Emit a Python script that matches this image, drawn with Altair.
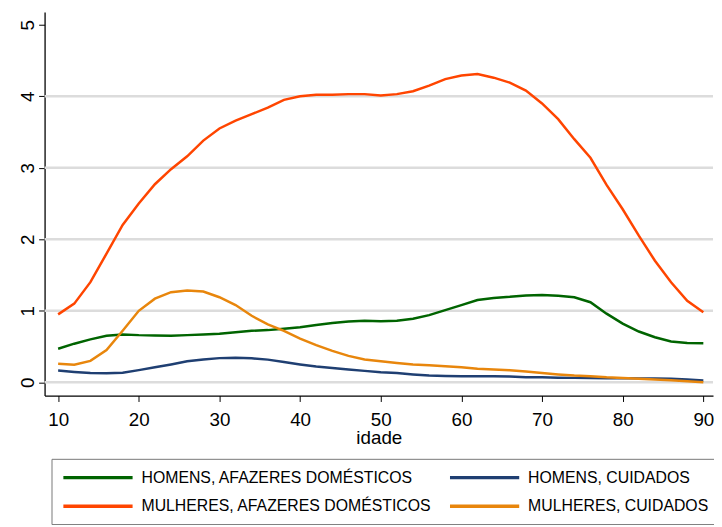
import altair as alt
import pandas as pd

ages = list(range(10, 91, 2))

homens_afazeres = [0.47, 0.54, 0.60, 0.65, 0.67, 0.66, 0.655, 0.65, 0.66, 0.67, 0.68,
                   0.70, 0.72, 0.73, 0.75, 0.77, 0.80, 0.83, 0.85, 0.86, 0.855,
                   0.86, 0.89, 0.94, 1.01, 1.08, 1.15, 1.18, 1.195, 1.215, 1.22,
                   1.21, 1.19, 1.12, 0.96, 0.82, 0.71, 0.63, 0.57, 0.55, 0.545]

homens_cuidados = [0.165, 0.145, 0.13, 0.127, 0.135, 0.17, 0.21, 0.25, 0.295, 0.32, 0.338,
                   0.343, 0.335, 0.317, 0.285, 0.25, 0.22, 0.20, 0.18, 0.16, 0.14,
                   0.13, 0.11, 0.095, 0.088, 0.085, 0.085, 0.085, 0.08, 0.072, 0.07,
                   0.065, 0.062, 0.06, 0.058, 0.057, 0.055, 0.052, 0.05, 0.04, 0.025]

mulheres_afazeres = [0.95, 1.10, 1.40, 1.80, 2.20, 2.50, 2.77, 2.98, 3.16, 3.38, 3.55,
                     3.66, 3.75, 3.84, 3.95, 4.00, 4.02, 4.02, 4.03, 4.03, 4.01,
                     4.03, 4.07, 4.15, 4.24, 4.29, 4.31, 4.26, 4.19, 4.08, 3.90,
                     3.68, 3.40, 3.14, 2.76, 2.42, 2.05, 1.70, 1.40, 1.14, 0.98]

mulheres_cuidados = [0.26, 0.245, 0.30, 0.45, 0.72, 1.00, 1.17, 1.26, 1.285, 1.27, 1.19,
                     1.08, 0.93, 0.81, 0.72, 0.61, 0.52, 0.44, 0.37, 0.32, 0.295,
                     0.27, 0.25, 0.24, 0.225, 0.21, 0.19, 0.18, 0.17, 0.15, 0.13,
                     0.11, 0.095, 0.085, 0.07, 0.06, 0.05, 0.04, 0.03, 0.015, 0.0]

# legend order (filled column by column: two rows)
series_names = ["HOMENS, AFAZERES DOMÉSTICOS", "MULHERES, AFAZERES DOMÉSTICOS",
                "HOMENS, CUIDADOS", "MULHERES, CUIDADOS"]
series_values = [homens_afazeres, mulheres_afazeres, homens_cuidados, mulheres_cuidados]
series_colors = ["#006400", "#ff4500", "#1f3f72", "#e8860c"]

x_ticks = [10, 20, 30, 40, 50, 60, 70, 80, 90]
y_ticks = [0, 1, 2, 3, 4, 5]
grid_values = [0, 1, 2, 3, 4]

rows = []
for name, vals in zip(series_names, series_values):
    for a, v in zip(ages, vals):
        rows.append({"idade": a, "valor": v, "serie": name})
df = pd.DataFrame(rows)

FONT = "Liberation Sans"

xscale = alt.Scale(domain=[8.32, 91.2], nice=False, zero=False)
yscale = alt.Scale(domain=[-0.185, 5.18], nice=False, zero=False)

x_axis = alt.Axis(values=x_ticks, title="idade", grid=False, format="d",
                  labelFontSize=19, labelFont=FONT, labelColor="#000",
                  labelPadding=9, tickSize=6, tickColor="#000", tickWidth=1,
                  domainColor="#000", domainWidth=1.3,
                  titleFontSize=19, titleFont=FONT, titleFontWeight="normal",
                  titleColor="#000", titleBaseline="alphabetic", titleY=49)
y_axis = alt.Axis(values=y_ticks, title=None, grid=False, format="d",
                  labelFontSize=19, labelFont=FONT, labelColor="#000",
                  labelAngle=270, labelAlign="center", labelBaseline="alphabetic",
                  labelPadding=5, tickSize=6, tickColor="#000", tickWidth=1,
                  domainColor="#000", domainWidth=1.3)

grid = alt.Chart(pd.DataFrame({"g": grid_values})).mark_rule(
    color="#dcdcdc", strokeWidth=2.5
).encode(y=alt.Y("g:Q", scale=yscale, axis=y_axis))

lines = alt.Chart(df).mark_line(strokeWidth=2.5).encode(
    x=alt.X("idade:Q", scale=xscale, axis=x_axis),
    y=alt.Y("valor:Q", scale=yscale, axis=y_axis),
    color=alt.Color(
        "serie:N",
        scale=alt.Scale(domain=series_names, range=series_colors),
        sort=series_names,
        legend=alt.Legend(
            orient="none", legendX=7, legendY=452, title=None, columns=2,
            direction="vertical",
            symbolType="M-1,0H9", symbolSize=196, symbolStrokeWidth=3.5,
            labelFontSize=16, labelFont=FONT, labelColor="#000", labelLimit=500,
            labelOffset=63, columnPadding=11, rowPadding=12, padding=10,
            strokeColor="#777777",
        ),
    ),
)

chart = alt.layer(grid, lines).properties(
    width=676, height=388,
    padding={"left": 37, "top": 1, "right": 1, "bottom": 128},
    autosize=alt.AutoSizeParams(type="none"),
    background="white",
).configure_view(stroke=None)

chart.save("out.html", embed_options={"renderer": "svg", "actions": False})
